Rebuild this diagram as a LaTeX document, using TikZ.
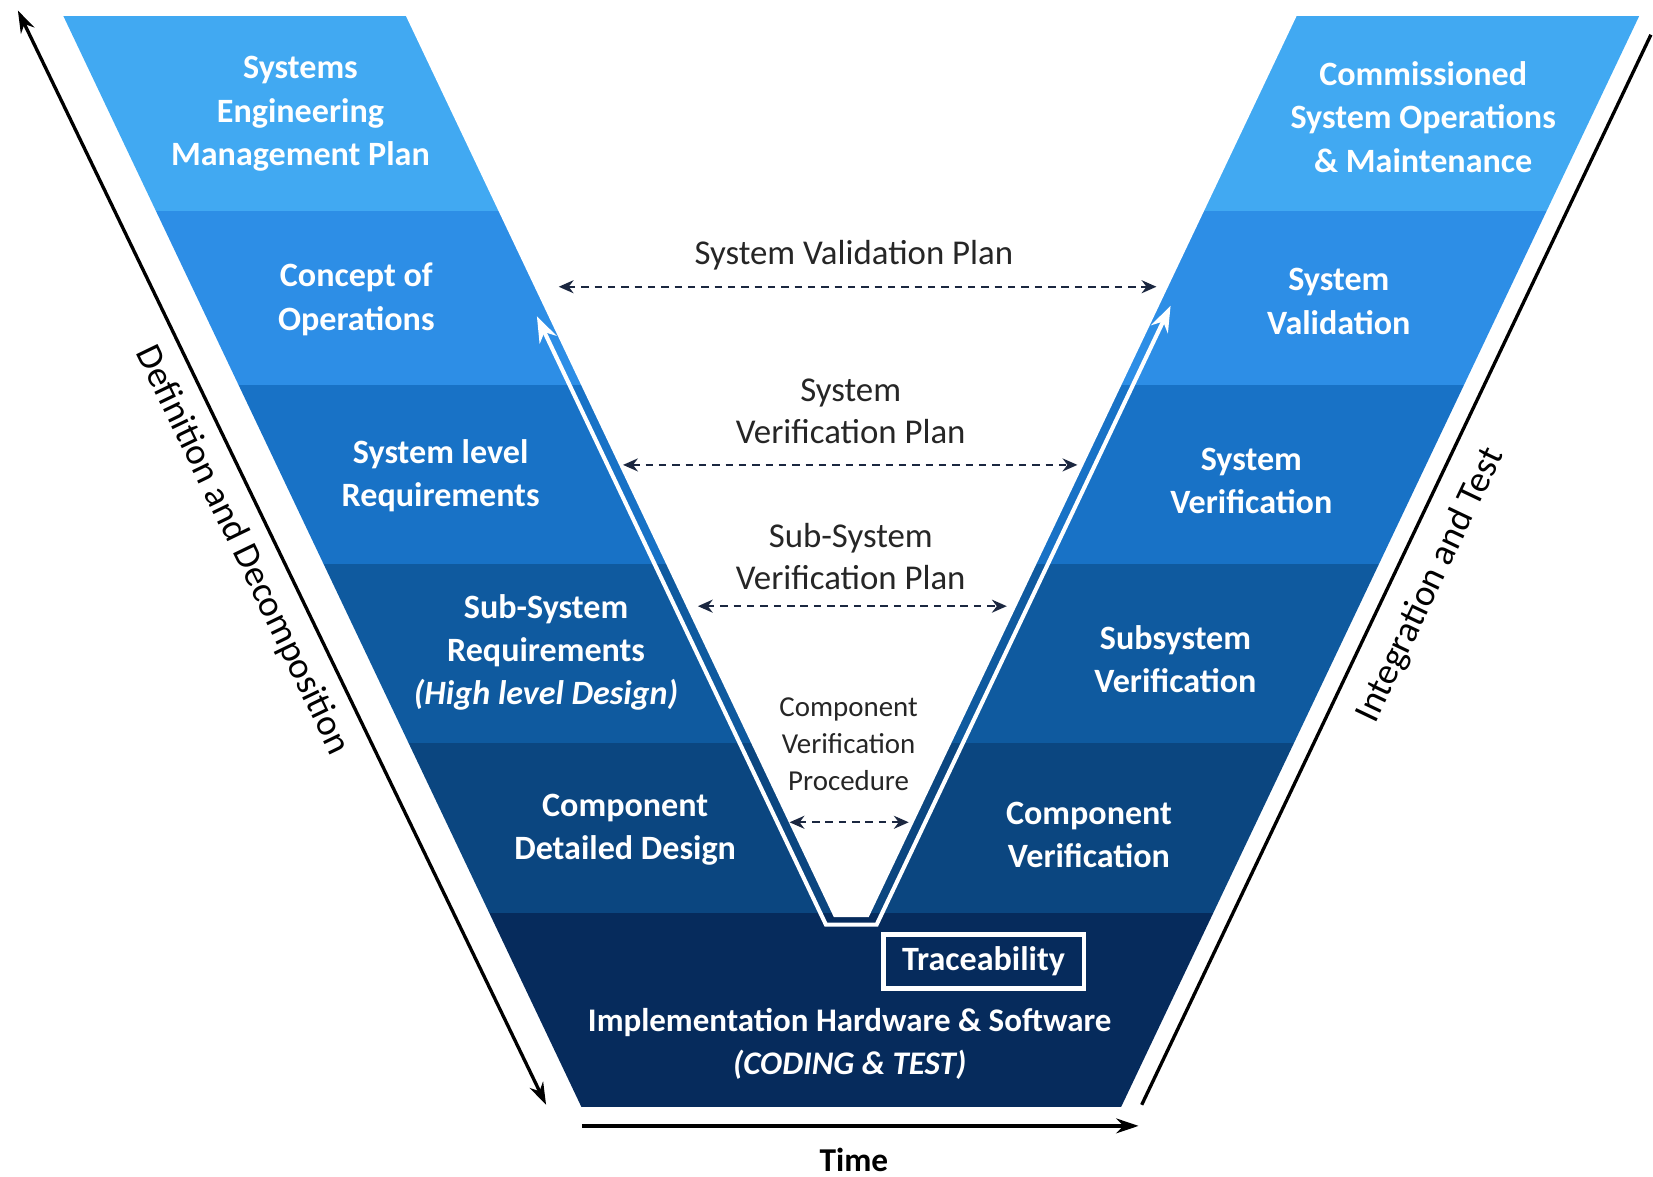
\documentclass[tikz,border=0pt]{standalone}
\usepackage{fontspec}
\setmainfont{Carlito}
\usetikzlibrary{calc,arrows.meta}

\definecolor{bandA}{HTML}{41A9F2}
\definecolor{bandB}{HTML}{2D8EE6}
\definecolor{bandC}{HTML}{1872C6}
\definecolor{bandD}{HTML}{0F5A9F}
\definecolor{bandE}{HTML}{0B4680}
\definecolor{bandF}{HTML}{062B5C}
\definecolor{dashink}{HTML}{1B2740}

\begin{document}
\begin{tikzpicture}[x=0.1mm,y=-0.1mm,
  phase/.style={text=white,font=\fontsize{9.2}{11.7}\selectfont\bfseries,align=center},
  plan/.style={text=black!85,font=\fontsize{9.4}{11.4}\selectfont,align=center},
  link/.style={dashink,line width=0.6pt,dash pattern=on 2pt off 1.6pt,{Stealth[length=4pt,width=3.5pt]}-{Stealth[length=4pt,width=3.5pt]}},
  side/.style={font=\fontsize{10}{12}\selectfont}]
\useasboundingbox (0,0) rectangle (1568,1116);

% the bands of the V
\begin{scope}
\clip (60,15) -- (551.5,1050) -- (1063.5,1050) -- (1555,15) -- cycle;
\fill[bandA] (0,15) rectangle (1568,200);
\fill[bandB] (0,200) rectangle (1568,365);
\fill[bandC] (0,365) rectangle (1568,535);
\fill[bandD] (0,535) rectangle (1568,705);
\fill[bandE] (0,705) rectangle (1568,866);
\fill[bandF] (0,866) rectangle (1568,1050);
\end{scope}
\fill[white] (385,15) -- (791,870) -- (824,870) -- (1230,15) -- cycle;

% white trace inside the V
\coordinate (tr-l) at (509.3,300);
\coordinate (tr-bl) at (783.4,877);
\coordinate (tr-br) at (831.6,877);
\coordinate (tr-r) at (1110.4,290);
\draw[white,line width=1.1pt,{Stealth[length=7pt,width=5pt]}-{Stealth[length=7pt,width=5pt]}] (tr-l) -- (tr-bl) -- (tr-br) -- (tr-r);

% left side
\node[phase] (semp) at (285,108) {Systems\\Engineering\\Management Plan};
\node[phase] (conops) at (338,284) {Concept of\\Operations};
\node[phase] (sysreq) at (418,451) {System level\\Requirements};
\node[phase] (subreq) at (518,619) {Sub-System\\Requirements\\\itshape(High level Design)};
\node[phase] (compdd) at (593,787) {Component\\Detailed Design};

% bottom
\node[draw=white,line width=1.2pt,text=white,font=\fontsize{9.2}{11.7}\selectfont\bfseries,minimum width=19mm,minimum height=5mm] (trace) at (933,912) {Traceability};
\node[phase,font=\fontsize{8.9}{11.7}\selectfont\bfseries] (impl) at (806,990) {Implementation Hardware \& Software\\\itshape(CODING \& TEST)};

% right side
\node[phase] (comm) at (1350,111) {Commissioned\\System Operations\\\& Maintenance};
\node[phase] (sysvalid) at (1270,286) {System\\Validation};
\node[phase] (sysverif) at (1187,456) {System\\Verification};
\node[phase] (subverif) at (1115,625) {Subsystem\\Verification};
\node[phase] (compverif) at (1033,792) {Component\\Verification};

% plans in the middle
\node[plan] (valplan) at (810,242) {System Validation Plan};
\coordinate (vp-l) at (530,272);
\coordinate (vp-r) at (1097,272);
\draw[link] (vp-l) -- (vp-r);

\node[plan] (verplan) at (807,390) {System\\Verification Plan};
\coordinate (sv-l) at (591,441);
\coordinate (sv-r) at (1022,441);
\draw[link] (sv-l) -- (sv-r);

\node[plan] (subplan) at (807,528) {Sub-System\\Verification Plan};
\coordinate (ss-l) at (662,575);
\coordinate (ss-r) at (955,575);
\draw[link] (ss-l) -- (ss-r);

\node[plan,font=\fontsize{7.8}{10}\selectfont] (compproc) at (805,706) {Component\\Verification\\Procedure};
\coordinate (cp-l) at (749,780);
\coordinate (cp-r) at (862,780);
\draw[link] (cp-l) -- (cp-r);

% axes
\coordinate (dd-top) at (17,10);
\coordinate (dd-bot) at (518,1048);
\draw[line width=0.9pt,{Stealth[length=6pt,width=4pt]}-{Stealth[length=6pt,width=4pt]}] (dd-top) -- (dd-bot);
\node[side,rotate=-64.2] (defdec) at (230,522) {Definition and Decomposition};

\coordinate (it-bot) at (1083,1048);
\coordinate (it-top) at (1566,33);
\draw[line width=0.9pt] (it-bot) -- (it-top);
\node[side,rotate=64.5] (inttest) at (1357,555) {Integration and Test};

\coordinate (tm-l) at (552,1068);
\coordinate (tm-r) at (1080,1068);
\draw[line width=0.9pt,-{Stealth[length=6pt,width=4pt]}] (tm-l) -- (tm-r);
\node[font=\fontsize{9}{11}\selectfont\bfseries] (time) at (810,1100) {Time};
\end{tikzpicture}
\end{document}
